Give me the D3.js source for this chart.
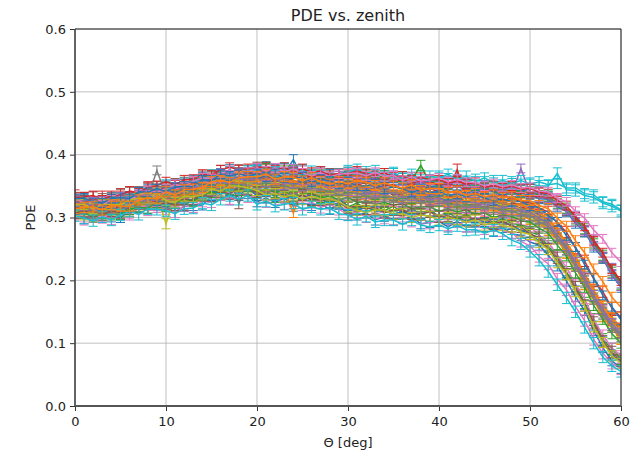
<!DOCTYPE html>
<html>
<head>
<meta charset="utf-8">
<script src="https://cdn.jsdelivr.net/npm/d3@7"></script>
<style>
  body { margin: 0; background: #fff; }
  text { font-family: "DejaVu Sans", sans-serif; }
</style>
</head>
<body>
<div id="chart"></div>
<script>
// zenith angles (deg)
const theta = [0,1,2,3,4,5,6,7,8,9,10,11,12,13,14,15,16,17,18,19,20,21,22,23,24,25,26,27,28,29,
               30,31,32,33,34,35,36,37,38,39,40,41,42,43,44,45,46,47,48,49,50,51,52,53,54,55,56,57,58,59,60];
const xTicks = [0,10,20,30,40,50,60];
const yTicks = [0,0.1,0.2,0.3,0.4,0.5,0.6];

// PDE per channel (rows of 10 degrees)
const ch01 = [.307,.298,.303,.306,.301,.300,.310,.317,.314,.319, .317,.308,.318,.319,.320,.333,.335,.328,.335,.338,
              .325,.331,.324,.331,.318,.323,.319,.322,.313,.321, .304,.304,.307,.296,.302,.296,.298,.301,.290,.292,
              .294,.285,.294,.285,.285,.286,.278,.284,.274,.271, .261,.256,.240,.223,.199,.174,.152,.120,.093,.072, .060];
const ch02 = [.318,.323,.319,.313,.326,.322,.328,.335,.330,.334, .344,.340,.341,.350,.347,.357,.353,.366,.361,.364,
              .361,.367,.357,.363,.359,.354,.362,.353,.356,.351, .346,.353,.349,.344,.350,.338,.344,.341,.337,.342,
              .332,.338,.332,.338,.325,.330,.324,.327,.325,.318, .315,.307,.298,.281,.260,.239,.210,.183,.161,.142, .123];
const ch03 = [.315,.307,.311,.304,.314,.310,.321,.318,.328,.324, .326,.319,.330,.328,.339,.335,.347,.341,.350,.344,
              .336,.343,.333,.340,.331,.337,.327,.335,.324,.331, .317,.323,.313,.320,.311,.318,.307,.314,.305,.312,
              .302,.309,.298,.305,.296,.301,.292,.298,.290,.289, .277,.272,.254,.240,.213,.194,.164,.138,.106,.091, .075];
const ch04 = [.336,.327,.333,.334,.329,.338,.341,.339,.349,.345, .348,.341,.352,.350,.361,.357,.369,.363,.371,.366,
              .360,.367,.358,.364,.355,.361,.352,.358,.349,.355, .350,.341,.346,.338,.344,.335,.340,.332,.337,.329,
              .334,.326,.331,.323,.328,.320,.325,.317,.321,.313, .308,.305,.290,.279,.253,.234,.203,.182,.153,.136, .117];
const ch05 = [.329,.321,.326,.320,.328,.325,.334,.332,.343,.338, .345,.353,.350,.360,.357,.368,.365,.374,.369,.376,
              .374,.380,.372,.378,.369,.375,.366,.372,.363,.369, .367,.372,.364,.370,.361,.367,.358,.364,.355,.361,
              .352,.358,.349,.355,.346,.352,.344,.348,.343,.347, .340,.342,.333,.329,.313,.303,.280,.265,.238,.220, .195];
const ch06 = [.321,.313,.318,.312,.320,.317,.326,.324,.334,.330, .344,.352,.349,.359,.356,.367,.364,.373,.368,.375,
              .375,.381,.373,.379,.370,.376,.367,.373,.364,.370, .372,.377,.369,.375,.366,.372,.363,.369,.360,.366,
              .363,.369,.360,.366,.357,.363,.355,.359,.354,.359, .353,.357,.352,.354,.347,.347,.338,.336,.325,.321, .312];
const ch07 = [.305,.297,.301,.303,.298,.306,.305,.315,.312,.320, .314,.309,.319,.317,.326,.325,.336,.330,.338,.333,
              .333,.325,.330,.322,.327,.320,.324,.316,.321,.313, .305,.309,.301,.307,.299,.297,.302,.294,.299,.291,
              .296,.288,.293,.286,.289,.282,.287,.279,.276,.262, .255,.238,.226,.202,.185,.158,.136,.106,.084,.068, .059];
const ch08 = [.312,.316,.309,.314,.318,.313,.323,.321,.331,.375, .334,.328,.337,.336,.346,.343,.354,.350,.357,.352,
              .351,.357,.350,.355,.346,.352,.344,.349,.341,.346, .344,.336,.341,.333,.338,.331,.335,.328,.332,.325,
              .329,.322,.326,.319,.323,.316,.320,.313,.315,.308, .307,.296,.289,.269,.253,.225,.203,.173,.152,.127, .114];
const ch09 = [.314,.319,.312,.318,.315,.323,.320,.330,.328,.336, .290,.336,.333,.343,.341,.351,.349,.357,.352,.359,
              .355,.348,.353,.346,.350,.343,.347,.340,.344,.337, .333,.337,.330,.335,.327,.332,.324,.329,.321,.326,
              .318,.323,.315,.320,.312,.317,.309,.313,.305,.307, .298,.295,.280,.268,.244,.224,.194,.172,.143,.126, .107];
const ch10 = [.327,.327,.321,.317,.327,.327,.326,.340,.336,.341, .336,.343,.349,.344,.352,.350,.363,.363,.322,.362,
              .367,.360,.356,.363,.359,.353,.357,.360,.349,.351, .344,.349,.346,.342,.347,.335,.339,.340,.335,.339,
              .330,.333,.334,.324,.329,.325,.327,.320,.322,.314, .313,.303,.296,.277,.259,.231,.210,.183,.155,.138, .120];
const ch11 = [.327,.329,.321,.327,.332,.327,.333,.332,.345,.344, .350,.345,.353,.354,.364,.359,.370,.376,.368,.371,
              .376,.370,.376,.370,.392,.364,.369,.363,.368,.359, .365,.366,.358,.362,.353,.360,.355,.350,.357,.349,
              .351,.345,.350,.344,.339,.345,.341,.336,.340,.335, .337,.330,.329,.317,.310,.291,.277,.253,.235,.208, .189];
const ch12 = [.320,.313,.310,.315,.316,.313,.324,.327,.325,.336, .327,.334,.334,.334,.347,.347,.347,.356,.352,.356,
              .346,.351,.353,.344,.307,.347,.340,.342,.334,.342, .333,.335,.326,.332,.332,.325,.325,.320,.325,.318,
              .324,.316,.317,.311,.316,.309,.312,.307,.304,.305, .296,.292,.278,.265,.242,.222,.192,.169,.141,.124, .105];
const ch13 = [.317,.319,.321,.315,.314,.325,.327,.328,.337,.331, .348,.343,.344,.353,.359,.357,.366,.361,.371,.368,
              .374,.378,.369,.374,.375,.367,.367,.369,.361,.369, .366,.370,.368,.363,.367,.358,.365,.360,.383,.355,
              .358,.353,.356,.347,.351,.346,.347,.341,.345,.340, .341,.335,.334,.322,.315,.296,.282,.258,.240,.213, .194];
const ch14 = [.314,.315,.307,.312,.310,.320,.314,.325,.326,.325, .337,.331,.341,.342,.351,.348,.356,.362,.354,.361,
              .361,.367,.360,.362,.354,.361,.358,.351,.358,.351, .358,.351,.357,.347,.351,.352,.345,.346,.340,.347,
              .339,.343,.376,.334,.339,.333,.334,.326,.331,.325, .324,.315,.309,.291,.277,.251,.231,.202,.182,.156, .141];
const ch15 = [.326,.319,.324,.315,.323,.327,.325,.336,.335,.341, .340,.348,.348,.358,.354,.362,.368,.362,.372,.367,
              .375,.369,.375,.369,.374,.365,.365,.367,.359,.366, .363,.369,.361,.363,.356,.362,.359,.351,.357,.352,
              .355,.347,.349,.345,.348,.340,.344,.341,.338,.378, .339,.332,.331,.319,.312,.293,.279,.255,.237,.210, .191];
const ch16 = [.319,.322,.319,.314,.324,.320,.328,.329,.337,.331, .351,.346,.354,.351,.361,.367,.364,.372,.369,.373,
              .374,.378,.371,.377,.371,.366,.373,.366,.367,.368, .374,.366,.372,.367,.363,.369,.361,.363,.365,.356,
              .365,.361,.365,.357,.360,.356,.358,.351,.356,.352, .354,.350,.350,.370,.344,.343,.335,.332,.323,.318, .310];
const ch17 = [.303,.299,.295,.301,.296,.304,.310,.305,.314,.313, .311,.306,.314,.315,.323,.320,.329,.335,.329,.335,
              .321,.326,.318,.321,.323,.313,.317,.313,.315,.306, .304,.297,.302,.293,.296,.296,.289,.296,.288,.285,
              .288,.282,.287,.280,.281,.275,.280,.274,.264,.258, .246,.232,.214,.193,.172,.150,.125,.100,.078,.064, .055];
const ch18 = [.326,.330,.332,.324,.330,.330,.339,.334,.346,.344, .342,.338,.348,.350,.350,.362,.359,.364,.360,.368,
              .358,.361,.353,.358,.358,.350,.352,.345,.350,.350, .337,.342,.335,.341,.330,.334,.333,.327,.331,.326,
              .328,.320,.324,.322,.316,.322,.314,.315,.310,.311, .302,.299,.284,.271,.248,.228,.198,.175,.147,.129, .111];
const ch19 = [.310,.303,.309,.306,.305,.313,.309,.319,.322,.320, .332,.327,.333,.332,.343,.346,.345,.354,.350,.350,
              .359,.351,.356,.354,.348,.354,.346,.350,.340,.346, .344,.347,.342,.346,.336,.341,.338,.333,.339,.331,
              .334,.328,.329,.323,.329,.321,.324,.319,.320,.313, .311,.301,.294,.274,.257,.230,.207,.178,.156,.133, .118];
const ch20 = [.332,.332,.324,.330,.329,.337,.333,.341,.342,.349, .347,.354,.356,.355,.366,.365,.375,.372,.376,.370,
              .380,.376,.372,.378,.371,.376,.367,.370,.370,.362, .372,.364,.366,.361,.364,.357,.362,.357,.354,.358,
              .350,.354,.349,.353,.345,.347,.341,.344,.341,.343, .338,.339,.330,.325,.311,.299,.278,.261,.236,.216, .192];
const ch21 = [.312,.316,.308,.312,.316,.312,.321,.322,.331,.326, .324,.321,.330,.327,.335,.334,.347,.342,.346,.349,
              .334,.340,.335,.337,.330,.336,.328,.330,.322,.329, .318,.311,.317,.310,.311,.305,.310,.305,.306,.301,
              .304,.298,.299,.294,.299,.293,.290,.292,.288,.279, .275,.262,.252,.230,.211,.184,.161,.128,.103,.082, .070];
const ch22 = [.323,.316,.313,.318,.316,.322,.327,.324,.334,.333, .333,.342,.339,.346,.345,.356,.356,.361,.364,.358,
              .362,.357,.363,.356,.359,.351,.355,.351,.347,.353, .347,.350,.342,.346,.345,.339,.344,.337,.338,.332,
              .337,.331,.332,.332,.324,.330,.324,.325,.320,.321, .312,.309,.294,.282,.258,.237,.208,.185,.157,.139, .122];
const ch23 = [.307,.307,.301,.307,.304,.305,.313,.316,.315,.324, .318,.323,.329,.326,.335,.340,.337,.345,.343,.349,
              .340,.346,.340,.342,.334,.338,.338,.332,.334,.328, .332,.324,.326,.321,.324,.320,.322,.314,.317,.317,
              .310,.314,.309,.312,.305,.307,.300,.304,.302,.295, .293,.283,.275,.256,.239,.212,.189,.160,.138,.115, .100];
const ch24 = [.332,.333,.335,.328,.335,.335,.342,.339,.348,.351, .357,.352,.360,.361,.369,.368,.376,.380,.376,.378,
              .379,.381,.376,.380,.372,.378,.372,.374,.367,.370, .370,.374,.370,.367,.371,.365,.366,.360,.364,.360,
              .360,.355,.358,.353,.356,.348,.351,.347,.350,.345, .346,.340,.338,.327,.319,.301,.286,.263,.244,.218, .199];
const ch25 = [.326,.319,.322,.325,.319,.328,.328,.336,.335,.335, .341,.340,.339,.348,.349,.357,.354,.362,.362,.359,
              .363,.357,.362,.353,.356,.351,.354,.352,.345,.351, .343,.346,.338,.342,.336,.340,.331,.335,.334,.328,
              .331,.324,.329,.324,.324,.320,.323,.315,.318,.311, .309,.299,.292,.272,.255,.228,.205,.176,.154,.131, .116];
const ch26 = [.307,.310,.310,.305,.310,.308,.317,.322,.322,.322, .322,.320,.320,.330,.335,.334,.341,.338,.347,.345,
              .340,.333,.339,.334,.330,.336,.328,.328,.330,.324, .315,.319,.314,.316,.308,.312,.312,.306,.305,.309,
              .301,.303,.297,.302,.296,.298,.290,.294,.286,.285, .274,.268,.250,.236,.210,.189,.160,.133,.103,.086, .072];
const ch27 = [.330,.323,.325,.320,.328,.333,.329,.335,.343,.340, .346,.353,.349,.358,.363,.362,.370,.375,.370,.372,
              .379,.374,.379,.373,.377,.371,.366,.371,.365,.369, .370,.371,.366,.372,.365,.367,.359,.365,.358,.360,
              .363,.357,.361,.356,.356,.350,.354,.349,.352,.347, .348,.342,.341,.331,.325,.310,.299,.280,.266,.244, .229];
const ch28 = [.314,.314,.306,.308,.314,.312,.318,.317,.328,.329, .323,.331,.333,.333,.344,.343,.346,.353,.347,.354,
              .355,.347,.352,.350,.345,.350,.341,.344,.343,.336, .339,.339,.333,.330,.334,.332,.326,.332,.325,.323,
              .327,.320,.321,.316,.320,.315,.316,.310,.311,.305, .303,.293,.286,.266,.249,.222,.199,.170,.148,.125, .110];
const ch29 = [.320,.321,.314,.321,.321,.320,.328,.331,.330,.339, .327,.324,.334,.333,.336,.345,.342,.350,.350,.347,
              .343,.336,.338,.333,.336,.329,.334,.329,.330,.325, .317,.311,.308,.312,.312,.305,.306,.300,.304,.302,
              .296,.300,.297,.293,.296,.288,.292,.287,.285,.277, .273,.260,.249,.228,.209,.182,.159,.126,.101,.080, .068];
const ch30 = [.308,.301,.304,.299,.308,.306,.307,.316,.319,.316, .321,.325,.321,.329,.330,.339,.339,.338,.346,.345,
              .338,.342,.340,.334,.339,.333,.337,.331,.327,.331, .324,.327,.322,.326,.317,.320,.313,.318,.317,.311,
              .312,.307,.310,.306,.308,.302,.299,.302,.298,.289, .285,.272,.261,.240,.221,.194,.171,.138,.113,.092, .080];
const ch31 = [.330,.331,.324,.323,.330,.332,.330,.341,.340,.346, .341,.348,.350,.349,.360,.359,.369,.366,.370,.365,
              .370,.364,.370,.363,.362,.365,.356,.361,.358,.353, .357,.350,.350,.354,.345,.349,.346,.340,.345,.340,
              .341,.335,.337,.333,.337,.331,.327,.330,.325,.326, .318,.316,.303,.293,.271,.253,.225,.204,.176,.158, .137];
const ch32 = [.314,.316,.317,.312,.320,.318,.318,.328,.331,.330, .341,.336,.344,.345,.348,.357,.359,.356,.363,.365,
              .365,.369,.361,.365,.364,.358,.363,.357,.353,.357, .354,.358,.356,.351,.355,.350,.347,.352,.343,.346,
              .346,.340,.342,.335,.338,.333,.336,.331,.333,.327, .327,.319,.314,.299,.286,.263,.244,.218,.198,.173, .157];

// error on each channel
const pdeErr = [.008,.007,.009,.008,.007,.008,.009,.007,.008,.009,.008,.007,.008,.009,.007,.008,
                .008,.009,.007,.008,.007,.009,.008,.007,.008,.009,.007,.008,.008,.009,.007,.008];

// plotting order (sets the colour each channel gets)
const channels = [ch01,ch02,ch03,ch04,ch05,ch20,ch07,ch08,ch09,ch16,ch11,ch12,ch13,ch14,ch15,ch10,
                  ch30,ch18,ch19,ch06,ch21,ch22,ch23,ch24,ch25,ch26,ch27,ch28,ch29,ch17,ch31,ch32];

// matplotlib default colour cycle
const colors = ['#1f77b4','#ff7f0e','#2ca02c','#d62728','#9467bd','#8c564b','#e377c2','#7f7f7f','#bcbd22','#17becf'];

let margin = { top: 29, left: 75, right: 15, bottom: 49 },
    width = 636 - margin.left - margin.right,
    height = 455 - margin.top - margin.bottom;

let svg = d3.select('#chart')
  .append('svg')
  .attr('width', 636)
  .attr('height', 455);

let g = svg.append('g').attr('transform', 'translate(' + margin.left + ',' + margin.top + ')');

let x = d3.scaleLinear().domain([0, 60]).range([0, width]),
    y = d3.scaleLinear().domain([0, 0.6]).range([height, 0]);

// grid
g.selectAll('.vgrid').data(xTicks).enter().append('line')
  .attr('x1', d => x(d)).attr('x2', d => x(d))
  .attr('y1', 0).attr('y2', height)
  .attr('stroke', '#b0b0b0').attr('stroke-width', 0.8);
g.selectAll('.hgrid').data(yTicks).enter().append('line')
  .attr('x1', 0).attr('x2', width)
  .attr('y1', d => y(d)).attr('y2', d => y(d))
  .attr('stroke', '#b0b0b0').attr('stroke-width', 0.8);

svg.append('clipPath').attr('id', 'clip')
  .append('rect').attr('x', 0).attr('y', 0).attr('width', width).attr('height', height);

let plot = g.append('g').attr('clip-path', 'url(#clip)');

let line = d3.line()
  .x((d, i) => x(theta[i]))
  .y(d => y(d));

channels.forEach(function(vals, k) {
  let c = colors[k % colors.length];
  let e = pdeErr[k];
  let s = plot.append('g');
  s.append('path')
    .attr('d', line(vals))
    .attr('fill', 'none')
    .attr('stroke', c)
    .attr('stroke-width', 1.5);
  // error bars with caps
  vals.forEach(function(v, i) {
    let xi = x(theta[i]);
    s.append('line')
      .attr('x1', xi).attr('x2', xi)
      .attr('y1', y(v - e)).attr('y2', y(v + e))
      .attr('stroke', c).attr('stroke-width', 1);
    [v - e, v + e].forEach(function(t) {
      s.append('line')
        .attr('x1', xi - 4.5).attr('x2', xi + 4.5)
        .attr('y1', y(t)).attr('y2', y(t))
        .attr('stroke', c).attr('stroke-width', 1);
    });
  });
});

// axes
let xAxis = g.append('g')
  .attr('transform', 'translate(0,' + height + ')')
  .call(d3.axisBottom(x).tickValues(xTicks).tickSize(5).tickPadding(6).tickFormat(d3.format('d')));
let yAxis = g.append('g')
  .call(d3.axisLeft(y).tickValues(yTicks).tickSize(5).tickPadding(4).tickFormat(d3.format('.1f')));

[xAxis, yAxis].forEach(function(a) {
  a.select('.domain').remove();
  a.selectAll('line').attr('stroke', '#333').attr('stroke-width', 1);
  a.selectAll('text').attr('font-size', 13).attr('fill', '#222')
    .style('font-family', '"DejaVu Sans", sans-serif');
});

// spines
g.append('line').attr('x1', 0).attr('x2', width).attr('y1', 0).attr('y2', 0).attr('stroke', '#222').attr('stroke-width', 1);
g.append('line').attr('x1', width).attr('x2', width).attr('y1', 0).attr('y2', height).attr('stroke', '#222').attr('stroke-width', 1);
g.append('line').attr('x1', 0).attr('x2', 0).attr('y1', 0).attr('y2', height).attr('stroke', '#444').attr('stroke-width', 1.6);
g.append('line').attr('x1', 0).attr('x2', width).attr('y1', height).attr('y2', height).attr('stroke', '#555').attr('stroke-width', 1.8);

// labels
svg.append('text')
  .attr('x', margin.left + width / 2).attr('y', 21)
  .attr('text-anchor', 'middle').attr('font-size', 16).attr('fill', '#222')
  .text('PDE vs. zenith');
svg.append('text')
  .attr('x', margin.left + width / 2).attr('y', 447)
  .attr('text-anchor', 'middle').attr('font-size', 13).attr('fill', '#222')
  .text('Θ [deg]');
svg.append('text')
  .attr('transform', 'translate(35,' + (margin.top + height / 2) + ') rotate(-90)')
  .attr('text-anchor', 'middle').attr('font-size', 13).attr('fill', '#222')
  .text('PDE');
</script>
</body>
</html>
